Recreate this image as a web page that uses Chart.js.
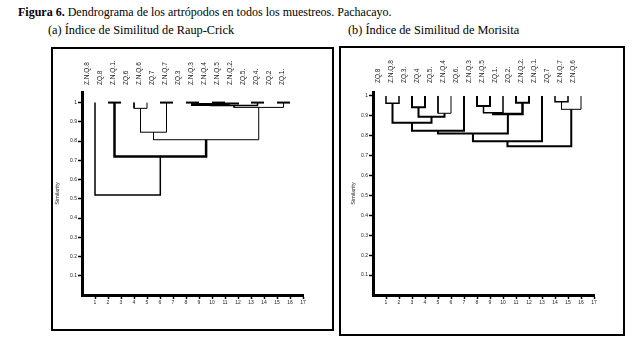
<!DOCTYPE html>
<html><head><meta charset="utf-8">
<script src="https://cdn.jsdelivr.net/npm/chart.js@4"></script>
<style>
body{margin:0;width:643px;height:349px;background:#fff;position:relative;overflow:hidden;font-family:"Liberation Serif","Times New Roman",serif;}
.t{position:absolute;font-size:12px;white-space:nowrap;color:#000;line-height:1;}
.box{position:absolute;border:2px solid #000;box-sizing:border-box;}
canvas{position:absolute;}
</style></head><body>
<div class="t" style="left:18px;top:6px"><b>Figura 6.</b> Dendrograma de los artrópodos en todos los muestreos. Pachacayo.</div>
<div class="t" style="left:48px;top:24px;font-size:12.3px">(a) Índice de Similitud de Raup-Crick</div>
<div class="t" style="left:348px;top:24px;font-size:12.3px">(b) Índice de Similitud de Morisita</div>
<div class="box" style="left:51px;top:47px;width:283px;height:284px"></div>
<div class="box" style="left:339px;top:46px;width:286px;height:290px"></div>
<canvas id="c1" width="278" height="278" style="left:54px;top:50px"></canvas>
<canvas id="c2" width="280" height="284" style="left:342px;top:49px"></canvas>
<script>
// ---- data (a) Raup-Crick ----
const leavesA = ["Z.N.Q.8","ZQ.8","Z.N.Q.1.","ZQ.6","Z.N.Q.6","ZQ.7","Z.N.Q.7","ZQ.3","Z.N.Q.3","Z.N.Q.4","Z.N.Q.5","Z.N.Q.2.","ZQ.5.","ZQ.4.","ZQ.2","ZQ.1."];
// merges: children (1..16 = leaves, 17.. = earlier merges) and similarity
const leftChildA  = [8, 10, 18, 17, 13, 20, 15, 22, 4, 6, 25, 27, 2, 29, 1];
const rightChildA = [9, 11, 12, 19, 14, 21, 16, 23, 5, 7, 26, 24, 3, 28, 30];
const heightA     = [1.0, 1.0, 0.995, 0.99, 1.0, 0.985, 1.0, 0.975, 0.97, 1.0, 0.846, 0.807, 1.0, 0.72, 0.52];
const widthA      = [2, 2, 2, 3, 2, 1.5, 2, 1, 1, 2, 1, 1, 2, 2.5, 1.5];
// ---- data (b) Morisita ----
const leavesB = ["ZQ.8","Z.N.Q.8","ZQ.3.","ZQ.4","ZQ.5.","Z.N.Q.4","ZQ.6.","Z.N.Q.3","Z.N.Q.5","ZQ.1.","ZQ.2.","Z.N.Q.2.","Z.N.Q.1.","ZQ.7","Z.N.Q.7","Z.N.Q.6"];
const leftChildB  = [1, 3, 5, 18, 17, 21, 8, 23, 11, 24, 22, 27, 14, 29, 28];
const rightChildB = [2, 4, 6, 19, 20, 7, 9, 10, 12, 25, 26, 13, 15, 16, 30];
const heightB     = [0.963, 0.943, 0.913, 0.896, 0.866, 0.825, 0.95, 0.916, 0.966, 0.909, 0.812, 0.773, 0.971, 0.933, 0.748];
const widthB      = [1.5, 2, 1, 2, 2, 2, 2, 1.5, 2, 2.5, 2, 2, 1.5, 1, 2];
// ---- axes ----
const yTicks = [0.1,0.2,0.3,0.4,0.5,0.6,0.7,0.8,0.9,1];
const yTickLabels = ["0.1","0.2","0.3","0.4","0.5","0.6","0.7","0.8","0.9","1"];
const xTicks = [1,2,3,4,5,6,7,8,9,10,11,12,13,14,15,16,17];
const leafPositions = [1,2,3,4,5,6,7,8,9,10,11,12,13,14,15,16];

function buildDatasets(leftC, rightC, heights, widths){
  const pos = {}, hgt = {};
  leafPositions.forEach((p,i)=>{ pos[i+1]=p; hgt[i+1]=1; });
  const ds = [];
  heights.forEach((h,k)=>{
    const id = 17+k, a = leftC[k], b = rightC[k];
    pos[id] = (pos[a]+pos[b])/2; hgt[id] = h;
    ds.push({
      data:[{x:pos[a],y:hgt[a]},{x:pos[a],y:h},{x:pos[b],y:h},{x:pos[b],y:hgt[b]}],
      showLine:true, borderColor:'#000', borderWidth:widths[k], pointRadius:0,
      borderJoinStyle:'miter', borderCapStyle:'butt', fill:false, tension:0
    });
  });
  return ds;
}

function makeChart(id, labels, ds, cfg){
  return new Chart(document.getElementById(id), {
    type:'scatter',
    data:{datasets:ds},
    options:{
      responsive:false, animation:false, devicePixelRatio:1,
      layout:{padding:{left:cfg.padL,right:cfg.padR,top:0,bottom:cfg.padB}},
      plugins:{legend:{display:false},tooltip:{enabled:false}},
      scales:{
        x:{type:'linear',position:'bottom',min:0,max:17,
          afterBuildTicks:s=>{ s.ticks = xTicks.map(v=>({value:v})); },
          afterFit:s=>{ s.height = 12; },
          ticks:{autoSkip:false,maxRotation:0,minRotation:0,padding:1,color:'#222',
            font:{size:5,family:'Liberation Sans'},callback:v=>String(v)},
          grid:{drawOnChartArea:false,drawTicks:true,tickLength:4,tickWidth:1.5,tickColor:'#000'},
          border:{display:true,width:3,color:'#000'}},
        y:{type:'linear',min:0,max:cfg.yMax,
          afterBuildTicks:s=>{ s.ticks = yTicks.map(v=>({value:v})); },
          afterFit:s=>{ s.width = cfg.yW; },
          ticks:{autoSkip:false,padding:1,color:'#222',font:{size:5,family:'Liberation Sans'},
            callback:(v,i)=>yTickLabels[i]},
          grid:{drawOnChartArea:false,drawTicks:true,tickLength:4,tickWidth:1.5,tickColor:'#000'},
          border:{display:true,width:3,color:'#000'},
          title:{display:true,text:'Similarity',color:'#222',font:{size:5.5,family:'Liberation Sans'},padding:0}},
        top:{type:'linear',axis:'x',position:'top',min:0,max:17,
          afterBuildTicks:s=>{ s.ticks = leafPositions.map(v=>({value:v})); },
          afterFit:s=>{ s.height = cfg.topH; },
          ticks:{autoSkip:false,minRotation:90,maxRotation:90,padding:cfg.labPad,color:'#222',
            font:{size:6.5,family:'Liberation Sans'},callback:(v,i)=>labels[i]},
          grid:{display:false,drawTicks:false},
          border:{display:false}}
      }
    }
  });
}

makeChart('c1', leavesA, buildDatasets(leftChildA,rightChildA,heightA,widthA),
  {padL:0,padR:29,padB:21,yW:28,yMax:1.055,topH:42,labPad:7});
makeChart('c2', leavesB, buildDatasets(leftChildB,rightChildB,heightB,widthB),
  {padL:8,padR:28,padB:26,yW:23,yMax:1.02,topH:43,labPad:9});
</script>
</body></html>
